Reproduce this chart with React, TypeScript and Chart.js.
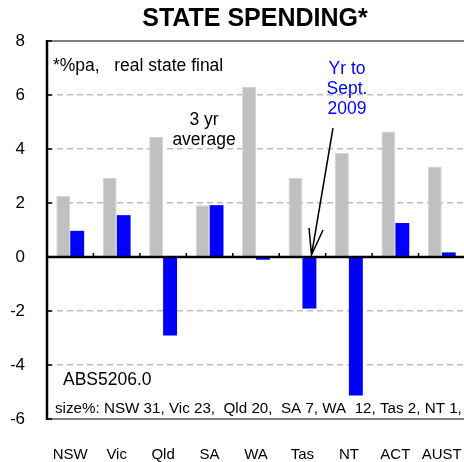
import React, { useEffect, useRef } from "react";
import { Chart, registerables } from "chart.js";

Chart.register(...registerables);

const categories = ["NSW", "Vic", "Qld", "SA", "WA", "Tas", "NT", "ACT", "AUST"];
const threeYearAverage = [2.27, 2.93, 4.45, 1.92, 6.3, 2.93, 3.85, 4.65, 3.35];
const yearToSept2009 = [0.97, 1.55, -2.91, 1.92, -0.1, -1.91, -5.13, 1.26, 0.17];
const yTicks = [-6, -4, -2, 0, 2, 4, 6, 8];

const title = "STATE SPENDING*";
const noteTop = "*%pa,   real state final";
const labelAvg = ["3 yr", "average"];
const labelRecent = ["Yr to", "Sept.", "2009"];
const source = "ABS5206.0";
const sizeNote = "size%: NSW 31, Vic 23,  Qld 20,  SA 7, WA  12, Tas 2, NT 1,";

const FONT = "Arial, 'Liberation Sans', sans-serif";

const overlay = {
  id: "overlay",
  afterDatasetsDraw(chart: any) {
    const { ctx, chartArea, scales } = chart;
    const y = scales.y;
    const x = scales.x;
    ctx.save();
    // top & bottom frame lines
    ctx.strokeStyle = "#808080";
    ctx.lineWidth = 2;
    ctx.beginPath();
    ctx.moveTo(chartArea.left, y.getPixelForValue(8));
    ctx.lineTo(chartArea.right + 2, y.getPixelForValue(8));
    ctx.moveTo(chartArea.left, y.getPixelForValue(-6));
    ctx.lineTo(chartArea.right + 2, y.getPixelForValue(-6));
    ctx.stroke();
    // zero line
    const y0 = y.getPixelForValue(0);
    ctx.strokeStyle = "#000";
    ctx.lineWidth = 2.5;
    ctx.beginPath();
    ctx.moveTo(chartArea.left, y0);
    ctx.lineTo(chartArea.right + 2, y0);
    ctx.stroke();
    // category boundary tick marks
    ctx.lineWidth = 1.5;
    ctx.beginPath();
    for (let i = 1; i < categories.length; i++) {
      const px = (x.getPixelForValue(i - 1) + x.getPixelForValue(i)) / 2;
      ctx.moveTo(px, y0);
      ctx.lineTo(px, y0 - 4);
    }
    // y-axis inner tick marks
    yTicks.forEach((v) => {
      const py = y.getPixelForValue(v);
      ctx.moveTo(chartArea.left, py);
      ctx.lineTo(chartArea.left + 5, py);
    });
    ctx.stroke();
    // left axis line
    ctx.lineWidth = 2.5;
    ctx.beginPath();
    ctx.moveTo(chartArea.left, y.getPixelForValue(8) - 1);
    ctx.lineTo(chartArea.left, y.getPixelForValue(-6) + 1);
    ctx.stroke();
    ctx.restore();
  },
  afterDraw(chart: any) {
    const { ctx, chartArea } = chart;
    const L = chartArea.left;
    const T = chartArea.top;
    ctx.save();
    ctx.textBaseline = "middle";
    // title
    ctx.fillStyle = "#000";
    ctx.font = `bold 25px ${FONT}`;
    ctx.textAlign = "center";
    ctx.fillText(title, 255, 19);
    // notes
    ctx.font = `17.5px ${FONT}`;
    ctx.textAlign = "left";
    ctx.fillText(noteTop, L + 6, T + 25);
    ctx.fillText(source, L + 16, T + 339);
    ctx.font = `15.2px ${FONT}`;
    ctx.fillText(sizeNote, L + 8, T + 368);
    ctx.font = `17.5px ${FONT}`;
    ctx.textAlign = "center";
    labelAvg.forEach((s, i) => ctx.fillText(s, L + 157, T + 79 + i * 20));
    ctx.fillStyle = "#0000ff";
    labelRecent.forEach((s, i) => ctx.fillText(s, L + 300, T + 28 + i * 20));
    // arrow
    const x1 = L + 286, y1 = T + 87;
    const x2 = L + 264.5, y2 = T + 214;
    ctx.strokeStyle = "#000";
    ctx.lineWidth = 1.5;
    ctx.beginPath();
    ctx.moveTo(x1, y1);
    ctx.lineTo(x2, y2);
    ctx.moveTo(L + 262, T + 187);
    ctx.lineTo(x2, y2);
    ctx.lineTo(L + 276, T + 189);
    ctx.stroke();
    ctx.restore();
  },
};

export default function App() {
  const ref = useRef<HTMLCanvasElement | null>(null);
  useEffect(() => {
    if (!ref.current) return;
    const chart = new Chart(ref.current, {
      type: "bar",
      data: {
        labels: categories,
        datasets: [
          {
            label: "3 yr average",
            data: threeYearAverage,
            backgroundColor: "#c0c0c0",
            borderColor: "#d4d4d4",
            borderWidth: 1,
            categoryPercentage: 0.6,
            barPercentage: 1,
          },
          {
            label: "Yr to Sept. 2009",
            data: yearToSept2009,
            backgroundColor: "#0000ff",
            borderColor: "#3a3aff",
            borderWidth: 0,
            categoryPercentage: 0.6,
            barPercentage: 1,
          },
        ],
      },
      options: {
        responsive: false,
        animation: false,
        devicePixelRatio: 1,
        layout: { padding: { top: 41, left: 11, right: 1, bottom: 0 } },
        plugins: {
          legend: { display: false },
          title: { display: false },
          tooltip: { enabled: false },
        },
        scales: {
          x: {
            grid: { display: false, drawTicks: false },
            border: { display: false },
            ticks: { color: "#000", font: { family: FONT, size: 15 }, padding: 27, maxRotation: 0, autoSkip: false },
            afterFit: (s: any) => {
              s.paddingLeft = 0;
              s.paddingRight = 0;
              s.height = 43;
            },
          },
          y: {
            min: -6,
            max: 8,
            afterBuildTicks: (scale: any) => {
              scale.ticks = yTicks.map((v) => ({ value: v }));
            },
            afterFit: (s: any) => {
              s.paddingTop = 0;
              s.paddingBottom = 0;
              s.width = 36;
            },
            grid: {
              drawTicks: false,
              color: (c: any) => {
                const v = c.tick ? c.tick.value : null;
                return v === 0 || v === 8 || v === -6 ? "rgba(0,0,0,0)" : "#bdbdbd";
              },
              lineWidth: 1.5,
            },
            border: { display: false, dash: [6, 4] },
            ticks: { color: "#000", font: { family: FONT, size: 17 }, padding: 22 },
          },
        },
      },
      plugins: [overlay],
    });
    return () => chart.destroy();
  }, []);
  return (
    <div style={{ position: "fixed", left: 0, top: 0, width: 466, height: 462, overflow: "hidden", background: "#fff" }}>
      <canvas ref={ref} width={466} height={462} style={{ display: "block" }} />
    </div>
  );
}
